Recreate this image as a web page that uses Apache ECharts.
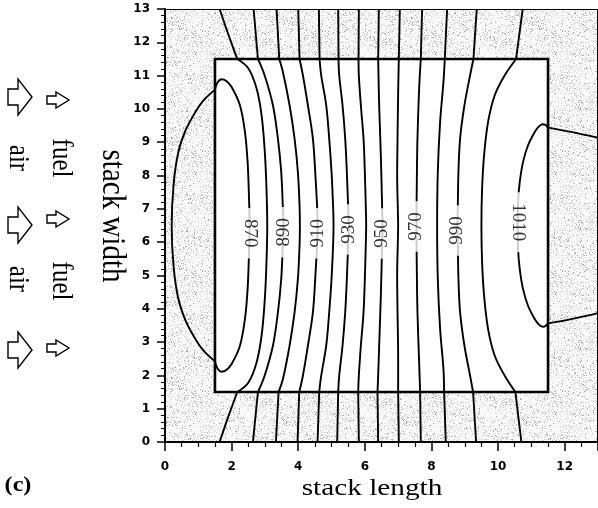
<!DOCTYPE html>
<html>
<head>
<meta charset="utf-8">
<script src="https://cdn.jsdelivr.net/npm/echarts@6/dist/echarts.min.js"></script>
<style>
  html, body { margin: 0; padding: 0; background: #fff; }
  #chart { width: 598px; height: 508px; }
</style>
</head>
<body>
<div id="chart"></div>
<script>
// Plot extent and stack outline, in stack-length / stack-width units
const plotBox = [0, 0, 13, 13];
const stackBox = [1.5, 1.5, 11.5, 11.5];

// Axis ticks
const xTicks = { min: 0, max: 13, step: 2 };
const yTicks = { min: 0, max: 13, step: 1 };

// Isotherms as [length, width] points. Each one is split where it crosses
// the stack outline, since the gradient kinks there.
const iso870In = [[1.50,10.58],[1.58,10.80],[1.70,10.89],[1.84,10.84],[2.00,10.66],[2.25,10.11],[2.40,9.31],[2.48,8.41],[2.52,7.40],[2.54,6.50],[2.52,5.60],[2.48,4.59],[2.40,3.69],[2.25,2.89],[2.00,2.34],[1.84,2.16],[1.70,2.11],[1.58,2.20],[1.50,2.42]];
const iso870Out = [[1.50,10.58],[1.15,10.25],[0.92,9.92],[0.62,9.36],[0.40,8.70],[0.26,7.75],[0.20,6.50],[0.26,5.25],[0.40,4.30],[0.62,3.64],[0.92,3.08],[1.15,2.75],[1.50,2.42]];

const iso880Top = [[1.64,13],[1.89,12.27],[2.17,11.5]];
const iso880In = [[2.17,11.5],[2.50,11.22],[2.75,10.61],[2.90,9.81],[2.99,8.81],[3.04,7.80],[3.07,6.50],[3.04,5.20],[2.99,4.19],[2.90,3.19],[2.75,2.39],[2.50,1.78],[2.17,1.5]];
const iso880Bot = [[2.17,1.5],[1.89,0.73],[1.64,0]];

const iso890Top = [[2.66,13],[2.79,11.5]];
const iso890In = [[2.79,11.5],[2.99,11.01],[3.24,10.11],[3.39,9.11],[3.49,8.10],[3.54,7.00],[3.56,6.50],[3.54,6.00],[3.49,4.90],[3.39,3.89],[3.24,2.89],[2.99,1.99],[2.79,1.5]];
const iso890Bot = [[2.79,1.5],[2.64,0]];

const iso900Top = [[3.35,13],[3.43,11.5]];
const iso900In = [[3.43,11.5],[3.54,11.11],[3.74,10.11],[3.89,9.11],[3.99,8.10],[4.04,7.10],[4.05,6.50],[4.04,5.90],[3.99,4.90],[3.89,3.89],[3.74,2.89],[3.54,1.89],[3.41,1.5]];
const iso900Bot = [[3.41,1.5],[3.33,0]];

const iso910Top = [[4.00,13],[4.04,11.5]];
const iso910In = [[4.04,11.5],[4.14,11.01],[4.29,10.11],[4.44,9.11],[4.51,8.10],[4.57,7.00],[4.58,6.50],[4.57,6.00],[4.51,4.90],[4.44,3.89],[4.29,2.89],[4.14,1.99],[4.03,1.5]];
const iso910Bot = [[4.03,1.5],[3.98,0]];

const iso920Top = [[4.62,13],[4.64,11.5]];
const iso920In = [[4.64,11.5],[4.69,11.01],[4.84,10.11],[4.93,9.11],[5.00,8.10],[5.05,7.00],[5.06,6.50],[5.05,6.00],[5.00,4.90],[4.93,3.89],[4.84,2.89],[4.69,1.99],[4.63,1.5]];
const iso920Bot = [[4.63,1.5],[4.58,0]];

const iso930Top = [[5.20,13],[5.21,11.5]];
const iso930In = [[5.21,11.5],[5.23,11.01],[5.33,10.11],[5.41,9.11],[5.46,8.10],[5.50,7.00],[5.52,6.50],[5.50,6.00],[5.46,4.90],[5.41,3.89],[5.33,2.89],[5.23,1.99],[5.20,1.5]];
const iso930Bot = [[5.20,1.5],[5.17,0]];

const iso940Top = [[5.82,13],[5.81,11.5]];
const iso940In = [[5.81,11.5],[5.82,11.00],[5.88,10.11],[5.96,9.11],[6.00,8.10],[6.03,7.00],[6.04,6.50],[6.03,6.00],[6.00,4.90],[5.96,3.89],[5.88,2.89],[5.82,2.00],[5.80,1.5]];
const iso940Bot = [[5.80,1.5],[5.82,0]];

const iso950Top = [[6.42,13],[6.40,11.5]];
const iso950In = [[6.40,11.5],[6.41,11.00],[6.43,10.11],[6.48,8.60],[6.52,7.00],[6.53,6.50],[6.52,6.00],[6.48,4.40],[6.43,2.89],[6.40,2.00],[6.38,1.5]];
const iso950Bot = [[6.38,1.5],[6.40,0]];

const iso960Top = [[7.05,13],[7.02,11.5]];
const iso960In = [[7.02,11.5],[7.00,10.50],[6.98,9.00],[6.97,8.00],[6.99,7.00],[7.00,6.50],[6.99,6.00],[6.97,5.00],[6.98,4.00],[7.00,2.50],[7.00,1.5]];
const iso960Bot = [[7.00,1.5],[7.02,0]];

const iso970Top = [[7.72,13],[7.68,11.5]];
const iso970In = [[7.68,11.5],[7.63,10.61],[7.58,9.11],[7.56,7.80],[7.55,6.50],[7.56,5.20],[7.58,3.89],[7.63,2.39],[7.66,1.5]];
const iso970Bot = [[7.66,1.5],[7.68,0]];

const iso980Top = [[8.47,13],[8.40,11.5]];
const iso980In = [[8.40,11.5],[8.36,10.81],[8.26,9.61],[8.19,8.10],[8.17,6.50],[8.19,4.90],[8.26,3.39],[8.36,2.19],[8.38,1.5]];
const iso980Bot = [[8.38,1.5],[8.43,0]];

const iso990Top = [[9.36,13],[9.26,11.5]];
const iso990In = [[9.26,11.5],[9.16,11.01],[8.99,10.11],[8.86,9.11],[8.81,8.10],[8.79,7.00],[8.78,6.50],[8.79,6.00],[8.81,4.90],[8.86,3.89],[8.99,2.89],[9.16,1.99],[9.25,1.5]];
const iso990Bot = [[9.25,1.5],[9.34,0]];

const iso1000Top = [[10.74,13],[10.54,11.5]];
const iso1000In = [[10.54,11.5],[10.20,11.01],[9.90,10.41],[9.70,9.61],[9.58,8.61],[9.52,7.60],[9.50,6.50],[9.52,5.40],[9.58,4.39],[9.70,3.39],[9.90,2.59],[10.20,1.99],[10.52,1.5]];
const iso1000Bot = [[10.52,1.5],[10.70,0]];

const iso1010In = [[11.50,9.44],[11.42,9.52],[11.34,9.54],[11.22,9.47],[11.10,9.31],[10.90,8.91],[10.75,8.41],[10.65,7.80],[10.60,7.20],[10.59,6.50],[10.60,5.80],[10.65,5.20],[10.75,4.59],[10.90,4.09],[11.10,3.69],[11.22,3.53],[11.34,3.46],[11.42,3.48],[11.50,3.56]];
const iso1010OutTop = [[11.50,9.44],[12.19,9.31],[12.89,9.16],[13.00,9.13]];
const iso1010OutBot = [[11.50,3.56],[12.19,3.69],[12.89,3.84],[13.00,3.87]];

// Labelled isotherms and where each label sits on its line
const labelLevels = [870, 890, 910, 930, 950, 970, 990, 1010];
const labelX = [2.54, 3.56, 4.58, 5.52, 6.53, 7.55, 8.78, 10.59];
const labelY = [6.27, 6.30, 6.27, 6.38, 6.26, 6.47, 6.35, 6.60];
// Labels on the closed loops read downward, the rest read upward
const downwardLabels = [870, 1010];

const isoSegments = [
  iso870In, iso870Out,
  iso880Top, iso880In, iso880Bot,
  iso890Top, iso890In, iso890Bot,
  iso900Top, iso900In, iso900Bot,
  iso910Top, iso910In, iso910Bot,
  iso920Top, iso920In, iso920Bot,
  iso930Top, iso930In, iso930Bot,
  iso940Top, iso940In, iso940Bot,
  iso950Top, iso950In, iso950Bot,
  iso960Top, iso960In, iso960Bot,
  iso970Top, iso970In, iso970Bot,
  iso980Top, iso980In, iso980Bot,
  iso990Top, iso990In, iso990Bot,
  iso1000Top, iso1000In, iso1000Bot,
  iso1010In, iso1010OutTop, iso1010OutBot
];

// Stippled fill for the region around the stack
function makeStipple() {
  const size = 120;
  const cv = document.createElement('canvas');
  cv.width = size; cv.height = size;
  const ctx = cv.getContext('2d');
  const img = ctx.createImageData(size, size);
  function hash(x, y) {
    let n = Math.imul(x, 374761393) ^ Math.imul(y, 668265263);
    n = Math.imul(n ^ (n >>> 13), 1274126177);
    return ((n ^ (n >>> 16)) >>> 0) / 4294967296;
  }
  for (let y = 0; y < size; y++) {
    for (let x = 0; x < size; x++) {
      const patch = 0.5 + 0.5 * Math.sin(x * Math.PI * 2 / 60) * Math.cos(y * Math.PI * 2 / 40);
      const r = hash(x, y);
      let v = 250;
      if (r < 0.02 + 0.06 * patch) v = 170;
      else if (r < 0.12 + 0.20 * patch) v = 218;
      const i = (y * size + x) * 4;
      img.data[i] = img.data[i + 1] = img.data[i + 2] = v;
      img.data[i + 3] = 255;
    }
  }
  ctx.putImageData(img, 0, 0);
  return cv;
}
const stipple = { image: makeStipple(), repeat: 'repeat' };

const serif = "'Liberation Serif', 'Times New Roman', serif";
const axisFont = { fontFamily: 'DejaVu Sans', fontWeight: 'bold', fontSize: 12, color: '#000' };

function arrow(cx, cy, big) {
  const w = big ? 12 : 11, hs = big ? 8 : 4, hh = big ? 18 : 8, neck = -2;
  return {
    type: 'polygon',
    shape: { points: [
      [cx - w, cy - hs], [cx + neck, cy - hs], [cx + neck, cy - hh], [cx + w, cy],
      [cx + neck, cy + hh], [cx + neck, cy + hs], [cx - w, cy + hs]
    ] },
    style: { fill: '#fff', stroke: '#000', lineWidth: 1.4 },
    silent: true
  };
}

function vText(text, x, y, size, stretch) {
  return {
    type: 'text', x: x, y: y, rotation: -Math.PI / 2, scaleY: stretch, silent: true,
    style: { text: text, font: size + 'px ' + serif, fill: '#000', align: 'center', verticalAlign: 'middle' }
  };
}

const series = [];

// Region around the stack (stippled) and the stack itself (white, outlined)
series.push({
  type: 'custom',
  silent: true,
  z: 1,
  clip: true,
  data: [plotBox, stackBox],
  renderItem: function (params, api) {
    const a = api.coord([api.value(0), api.value(3)]);
    const b = api.coord([api.value(2), api.value(1)]);
    const isStack = params.dataIndex === 1;
    return {
      type: 'rect',
      shape: { x: a[0], y: a[1], width: b[0] - a[0], height: b[1] - a[1] },
      style: isStack
        ? { fill: '#fff', stroke: '#000', lineWidth: 2.6 }
        : { fill: stipple, stroke: '#000', lineWidth: 2 }
    };
  }
});

isoSegments.forEach(function (seg) {
  series.push({
    type: 'line',
    data: seg,
    smooth: 0.35,
    showSymbol: false,
    symbol: 'none',
    silent: true,
    z: 3,
    lineStyle: { color: '#000', width: 1.9 }
  });
});

series.push({
  type: 'scatter',
  silent: true,
  z: 5,
  symbolSize: 0,
  data: labelLevels.map(function (v, i) {
    return {
      value: [labelX[i], labelY[i], v],
      label: { rotate: downwardLabels.indexOf(v) >= 0 ? -90 : 90 }
    };
  }),
  label: {
    show: true,
    position: 'inside',
    formatter: function (p) { return String(p.value[2]); },
    fontFamily: serif,
    fontSize: 19,
    color: '#000',
    backgroundColor: '#fff',
    padding: [0, 11, 0, 11],
    lineHeight: 18
  }
});

const chart = echarts.init(document.getElementById('chart'), null, { renderer: 'canvas' });
chart.setOption({
  animation: false,
  backgroundColor: '#fff',
  grid: { left: 165, top: 9, width: 436, height: 433, containLabel: false },
  xAxis: {
    type: 'value', min: xTicks.min, max: xTicks.max, interval: xTicks.step, z: 10,
    axisLine: { lineStyle: { color: '#000', width: 2 } },
    axisTick: { length: 9, lineStyle: { color: '#000', width: 1.5 } },
    minorTick: { show: true, splitNumber: 4, length: 5, lineStyle: { color: '#000', width: 1.2 } },
    axisLabel: Object.assign({ margin: 19, showMaxLabel: false }, axisFont),
    splitLine: { show: false }
  },
  yAxis: {
    type: 'value', min: yTicks.min, max: yTicks.max, interval: yTicks.step, z: 10,
    axisLine: { lineStyle: { color: '#000', width: 2 } },
    axisTick: { length: 8, lineStyle: { color: '#000', width: 1.5 } },
    minorTick: { show: true, splitNumber: 5, length: 4, lineStyle: { color: '#000', width: 1 } },
    axisLabel: Object.assign({ margin: 15 }, axisFont),
    splitLine: { show: false }
  },
  series: series,
  graphic: [
    {
      type: 'text', x: 372, y: 489, scaleX: 1.22, silent: true,
      style: { text: 'stack length', font: '24px ' + serif, fill: '#000', align: 'center', verticalAlign: 'middle' }
    },
    vText('stack width', 112, 216, 29, 1.15),
    vText('air', 18, 158, 25, 1.2),
    vText('air', 18, 279, 25, 1.2),
    vText('fuel', 61, 158, 25, 1.2),
    vText('fuel', 61, 281, 25, 1.2),
    arrow(20, 97, true),
    arrow(20, 225, true),
    arrow(20, 350, true),
    arrow(58, 100, false),
    arrow(58, 219, false),
    arrow(58, 348, false),
    {
      type: 'text', x: 18, y: 486, scaleX: 1.15, silent: true,
      style: { text: '(c)', font: 'bold 21px ' + serif, fill: '#000', align: 'center', verticalAlign: 'middle' }
    }
  ]
});
</script>
</body>
</html>
